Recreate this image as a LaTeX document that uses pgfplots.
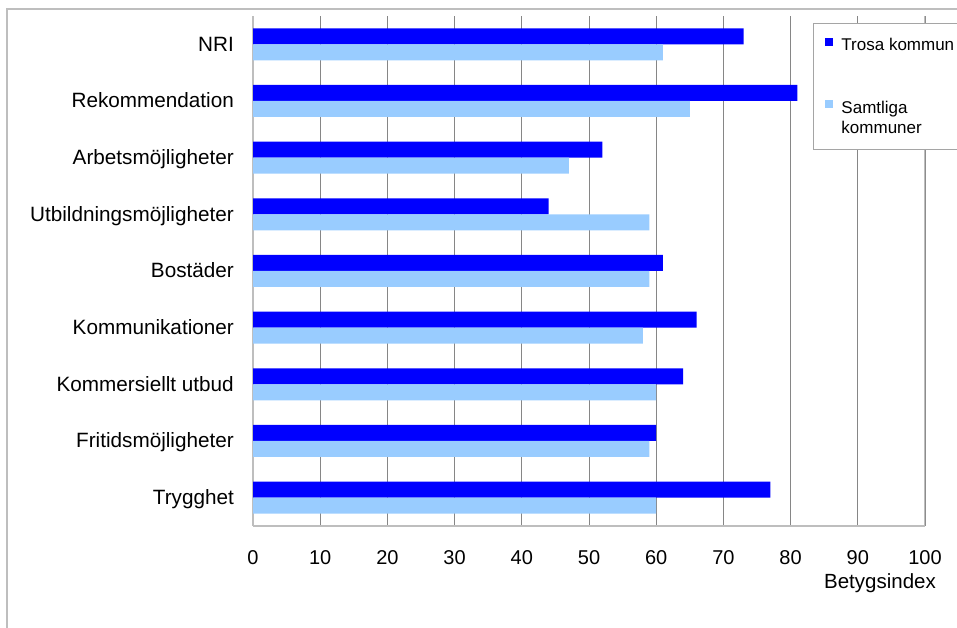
\documentclass[border=0pt]{standalone}
\usepackage{fontspec}
\setmainfont{Liberation Sans}
\usepackage{pgfplots}
\pgfplotsset{compat=1.18}
\definecolor{trosa}{RGB}{0,0,255}
\definecolor{samtliga}{RGB}{153,204,255}
\definecolor{gridgray}{RGB}{134,134,134}
\definecolor{axgray}{RGB}{190,190,190}
\definecolor{leggray}{RGB}{165,165,165}

\begin{document}
\begin{tikzpicture}[x=1pt,y=1pt]
\path[use as bounding box] (0,0) rectangle (957,628);
\draw[axgray, line width=1.5pt] (7,-5) -- (7,619) -- (965,619);
\begin{axis}[
  at={(253pt,102pt)}, anchor=south west,
  scale only axis, width=672pt, height=510pt,
  xbar, bar width=16pt,
  xmin=0, xmax=100, ymin=-0.5, ymax=8.5,
  xtick={0,10,...,100},
  ytick={0,...,8},
  yticklabels={Trygghet, Fritidsmöjligheter, Kommersiellt utbud, Kommunikationer, Bostäder, Utbildningsmöjligheter, Arbetsmöjligheter, Rekommendation, NRI},
  axis lines*=left,
  axis line style={axgray, line width=1.2pt, -},
  major tick length=0pt,
  xmajorgrids, grid style={gridgray, line width=0.9pt},
  /pgf/number format/assume math mode=true,
  xticklabel style={font=\fontsize{20}{24}\selectfont, anchor=base, inner sep=0pt, yshift=-39pt},
  yticklabel style={font=\fontsize{20.7}{24}\selectfont, anchor=base east, inner sep=0pt, xshift=-19pt, yshift=-7pt},
  xlabel={Betygsindex},
  xlabel style={at={(axis description cs:0.933,-0.1216)}, anchor=base, inner sep=0pt, font=\fontsize{20.5}{24}\selectfont},
  legend image code/.code={\fill[#1] (0pt,-10pt) rectangle (8pt,-2pt);},
  legend style={at={(0.8333,0.9863)}, anchor=north west, draw=leggray, line width=1pt,
    inner xsep=12pt, inner ysep=12.5pt, column sep=6pt, row sep=44pt,
    font=\fontsize{17}{20}\selectfont, cells={anchor=north west, align=left, inner sep=0pt}},
]
\addplot[fill=trosa, draw=none, bar shift=8pt] coordinates {
  (73,8) (81,7) (52,6) (44,5) (61,4) (66,3) (64,2) (60,1) (77,0)
};
\addplot[fill=samtliga, draw=none, bar shift=-8pt] coordinates {
  (61,8) (65,7) (47,6) (59,5) (59,4) (58,3) (60,2) (59,1) (60,0)
};
\draw[axgray, line width=1.2pt] (axis cs:100,-0.5) -- (axis cs:100,8.5);
\legend{Trosa kommun, {Samtliga\\kommuner}}
\end{axis}
\end{tikzpicture}
\end{document}
